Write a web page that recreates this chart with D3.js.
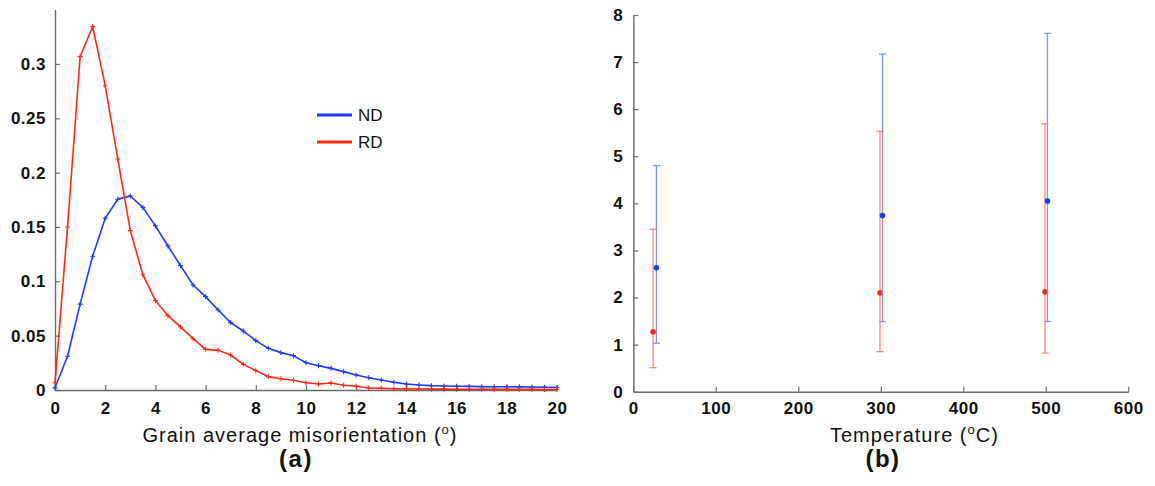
<!DOCTYPE html>
<html><head><meta charset="utf-8">
<script src="https://cdn.jsdelivr.net/npm/d3@7"></script>
<style>
body{margin:0;background:#fff;}
svg{display:block;font-family:"Liberation Sans",Arial,sans-serif;}
</style></head>
<body><svg id="c" width="1155" height="486"></svg>
<script>
// ---- Panel (a) data ----
const misX = d3.range(0, 20.01, 0.5);
const ndValues = [0.002,0.031,0.079,0.123,0.158,0.1755,0.1785,0.168,0.151,0.1325,0.1144,0.0966,0.0859,0.0736,0.062,0.0543,0.0454,0.0383,0.0344,0.0316,0.0251,0.0224,0.0199,0.0169,0.0138,0.0113,0.0092,0.0071,0.0055,0.0046,0.004,0.0037,0.0035,0.0033,0.0031,0.003,0.003,0.0029,0.0027,0.0025,0.0023];
const rdValues = [0.0067,0.15,0.3067,0.3343,0.28,0.2126,0.1466,0.1061,0.0822,0.0684,0.058,0.0472,0.0374,0.0365,0.0322,0.0236,0.0178,0.0123,0.0104,0.0089,0.0067,0.0055,0.0064,0.0043,0.0034,0.0018,0.0015,0.0012,0.001,0.0009,0.0008,0.0008,0.0007,0.0007,0.0007,0.0006,0.0006,0.0006,0.0006,0.0005,0.0005];
const aXTicks = d3.range(0, 21, 2);
const aYTicks = [0,0.05,0.1,0.15,0.2,0.25,0.3];
const aYTickLabels = ["0","0.05","0.1","0.15","0.2","0.25","0.3"];
const legendLabels = ["ND","RD"];

// ---- Panel (b) data ----
const temps = [25, 300, 500];
const ndTempX = [28, 302, 502];
const ndMean = [2.63, 3.74, 4.05];
const ndUpper = [4.80, 7.17, 7.61];
const ndLower = [1.03, 1.49, 1.49];
const rdTempX = [24, 299, 499];
const rdMean = [1.27, 2.10, 2.12];
const rdUpper = [3.45, 5.53, 5.69];
const rdLower = [0.51, 0.85, 0.82];
const bXTicks = [0,100,200,300,400,500,600];
const bYTicks = [0,1,2,3,4,5,6,7,8];

const BLUE = "#1a3cff", RED = "#ff2a12";
const BLUE_ERR = "#8094ff", RED_ERR = "#ff8a70";
const AXIS = "#6a6a6a";

const svg = d3.select("#c");

function styleAxis(g){
  g.select(".domain").attr("stroke", AXIS).attr("stroke-width", 1.4);
  g.selectAll(".tick line").attr("stroke", AXIS).attr("stroke-width", 1.2);
  g.selectAll(".tick text").attr("fill", "#111").attr("font-size", 17).attr("font-weight", "bold")
    .attr("letter-spacing", 0.5)
    .attr("font-family", '"Liberation Sans",Arial,sans-serif');
}

// ===== Panel (a) =====
const ax = d3.scaleLinear().domain([0, 20]).range([55, 557]);
const ay = d3.scaleLinear().domain([0, 0.35]).range([390, 9.6]);

const gaX = svg.append("g").attr("transform", "translate(0,390)")
  .call(d3.axisBottom(ax).tickValues(aXTicks).tickSize(-5).tickPadding(10).tickSizeOuter(0).tickFormat(d3.format("d")));
styleAxis(gaX);
gaX.selectAll(".tick text").attr("dy", "0.8em");
const gaY = svg.append("g").attr("transform", "translate(55,0)")
  .call(d3.axisLeft(ay).tickValues(aYTicks).tickSize(-5).tickPadding(9).tickSizeOuter(0).tickFormat((d,i)=>aYTickLabels[i]));
styleAxis(gaY);

const series = [
  {name: legendLabels[0], vals: ndValues, color: BLUE},
  {name: legendLabels[1], vals: rdValues, color: RED}
];
const line = d3.line().x(d => ax(d[0])).y(d => ay(d[1]));
series.forEach(s => {
  const pts = misX.map((x, i) => [x, s.vals[i]]);
  svg.append("path").datum(pts).attr("d", line).attr("fill", "none")
    .attr("stroke", s.color).attr("stroke-width", 1.6);
  const m = svg.append("g").attr("stroke", s.color).attr("stroke-width", 1.1);
  m.selectAll("path").data(pts).join("path")
    .attr("d", d => `M${ax(d[0])-2.5},${ay(d[1])}h5M${ax(d[0])},${ay(d[1])-2.5}v5`);
});

// legend
series.forEach((s, i) => {
  const y = 115 + i * 27;
  svg.append("line").attr("x1", 317).attr("x2", 352).attr("y1", y).attr("y2", y)
    .attr("stroke", s.color).attr("stroke-width", 3);
  svg.append("text").attr("x", 358).attr("y", y + 6).attr("font-size", 17).attr("fill", "#111").text(s.name);
});

// titles
const tA = svg.append("text").attr("x", 300).attr("y", 442).attr("text-anchor", "middle")
  .attr("font-size", 20).attr("letter-spacing", 1).attr("fill", "#111");
tA.append("tspan").text("Grain average misorientation (");
tA.append("tspan").attr("font-size", 13).attr("dy", -8).text("o");
tA.append("tspan").attr("dy", 8).text(")");
svg.append("text").attr("x", 296).attr("y", 467).attr("text-anchor", "middle")
  .attr("font-size", 24).attr("letter-spacing", 1.5).attr("font-weight", "bold").attr("fill", "#111").text("(a)");

// ===== Panel (b) =====
const bx = d3.scaleLinear().domain([0, 600]).range([633.3, 1128.3]);
const by = d3.scaleLinear().domain([0, 8]).range([391.7, 15]);

const gbX = svg.append("g").attr("transform", "translate(0,391.7)")
  .call(d3.axisBottom(bx).tickValues(bXTicks).tickSize(-5).tickPadding(10).tickSizeOuter(0).tickFormat(d3.format("d")));
styleAxis(gbX);
gbX.selectAll(".tick text").attr("dy", "0.72em");
const gbY = svg.append("g").attr("transform", "translate(633.3,0)")
  .call(d3.axisLeft(by).tickValues(bYTicks).tickSize(-5).tickPadding(10).tickSizeOuter(0).tickFormat(d3.format("d")));
styleAxis(gbY);

function errBars(xs, mean, up, lo, errColor, dotColor){
  const g = svg.append("g");
  xs.forEach((t, i) => {
    const x = bx(t);
    g.append("line").attr("x1", x).attr("x2", x).attr("y1", by(up[i])).attr("y2", by(lo[i]))
      .attr("stroke", errColor).attr("stroke-width", 1.3);
    [up[i], lo[i]].forEach(v => {
      g.append("line").attr("x1", x - 3.5).attr("x2", x + 3.5).attr("y1", by(v)).attr("y2", by(v))
        .attr("stroke", errColor).attr("stroke-width", 1.3);
    });
  });
  g.selectAll("circle").data(xs).join("circle")
    .attr("cx", d => bx(d)).attr("cy", (d, i) => by(mean[i])).attr("r", 2.8).attr("fill", dotColor);
}
errBars(rdTempX, rdMean, rdUpper, rdLower, RED_ERR, RED);
errBars(ndTempX, ndMean, ndUpper, ndLower, BLUE_ERR, BLUE);

const tB = svg.append("text").attr("x", 830).attr("y", 442).attr("text-anchor", "start")
  .attr("font-size", 20).attr("letter-spacing", 1).attr("fill", "#111");
tB.append("tspan").text("Temperature (");
tB.append("tspan").attr("font-size", 13).attr("dy", -8).text("o");
tB.append("tspan").attr("dy", 8).text("C)");
svg.append("text").attr("x", 883).attr("y", 467).attr("text-anchor", "middle")
  .attr("font-size", 24).attr("letter-spacing", 1.5).attr("font-weight", "bold").attr("fill", "#111").text("(b)");
</script></body></html>
